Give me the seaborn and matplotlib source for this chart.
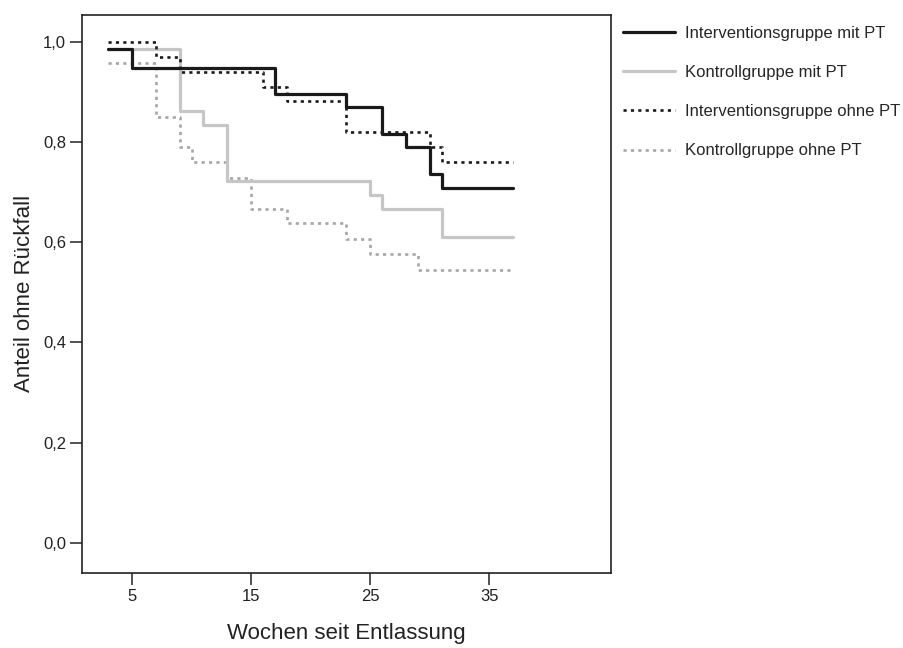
import numpy as np
import pandas as pd
import matplotlib
matplotlib.use("Agg")
import matplotlib.pyplot as plt
import seaborn as sns

# step curves (time in weeks, share without relapse); last point = end of follow-up
iv_mit_t = [3, 5, 17, 23, 26, 28, 30, 31, 37]
iv_mit_s = [0.985, 0.947, 0.895, 0.869, 0.816, 0.790, 0.736, 0.709, 0.709]

ko_mit_t = [3, 9, 11, 13, 25, 26, 31, 37]
ko_mit_s = [0.985, 0.861, 0.834, 0.721, 0.695, 0.667, 0.610, 0.610]

iv_ohne_t = [3, 7, 9, 16, 18, 23, 30, 31, 37]
iv_ohne_s = [1.0, 0.970, 0.939, 0.909, 0.881, 0.820, 0.790, 0.759, 0.759]

ko_ohne_t = [3, 7, 9, 10, 13, 15, 18, 23, 25, 29, 37]
ko_ohne_s = [0.957, 0.849, 0.790, 0.759, 0.728, 0.667, 0.638, 0.607, 0.577, 0.544, 0.544]

labels = ["Interventionsgruppe mit PT", "Kontrollgruppe mit PT",
          "Interventionsgruppe ohne PT", "Kontrollgruppe ohne PT"]

sns.set_style("white")
plt.rcParams['font.family'] = ['Liberation Sans', 'DejaVu Sans']

fig = plt.figure(figsize=(9.04, 6.48), dpi=100)
ax = fig.add_axes([0.0907, 0.1162, 0.5848, 0.8607])

dot = (0, (1.2, 1.6))
curves = [
    (iv_mit_t, iv_mit_s, "#1a1a1a", "-", 2.3, 4),
    (ko_mit_t, ko_mit_s, "#c6c6c6", "-", 2.3, 2),
    (iv_ohne_t, iv_ohne_s, "#1a1a1a", dot, 1.9, 3),
    (ko_ohne_t, ko_ohne_s, "#a6a6a6", dot, 1.9, 1),
]
for (t, s, c, ls, lw, z), lab in zip(curves, labels):
    sns.lineplot(x=t, y=s, ax=ax, drawstyle="steps-post", color=c,
                 linestyle=ls, linewidth=lw, label=lab, zorder=z,
                 estimator=None)

ax.set_xlim(0.8, 45.2)
ax.set_ylim(-0.059, 1.053)
ax.set_xticks([5, 15, 25, 35])
ax.set_yticks([0.0, 0.2, 0.4, 0.6, 0.8, 1.0])
ax.set_yticklabels(["0,0", "0,2", "0,4", "0,6", "0,8", "1,0"])
ax.tick_params(axis="both", direction="out", length=8.5, width=1.1,
               labelsize=12, color="#222222", labelcolor="#222222",
               bottom=True, left=True, pad=3)
for sp in ax.spines.values():
    sp.set_linewidth(1.2)
    sp.set_color("#222222")

ax.set_xlabel("Wochen seit Entlassung", fontsize=16, color="#222222", labelpad=14)
ax.set_ylabel("Anteil ohne Rückfall", fontsize=16, color="#222222", labelpad=6)

ax.legend(loc="upper left", bbox_to_anchor=(0.689, 0.960),
          bbox_transform=fig.transFigure, frameon=False, fontsize=12,
          handlelength=3.1, handletextpad=0.6, labelspacing=1.45,
          borderpad=0, borderaxespad=0)

fig.savefig("out.png", dpi=100)
